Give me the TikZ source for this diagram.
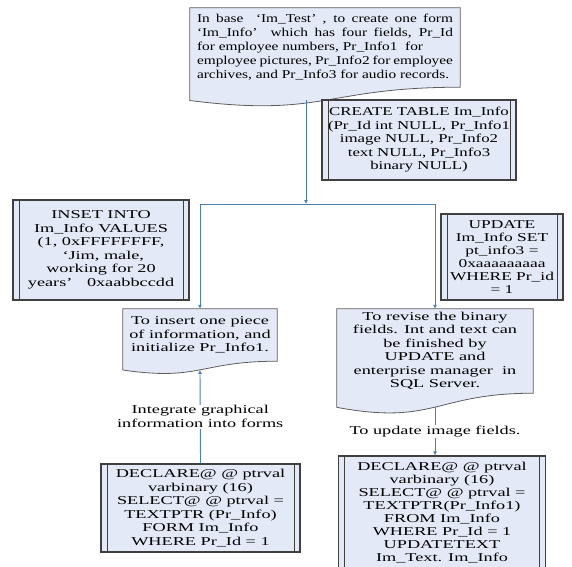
\documentclass[tikz,border=0pt]{standalone}
\usepackage{fontspec}
\setmainfont[FakeStretch=1.52]{Liberation Serif}
\newfontfamily\docfontA[FakeStretch=1.28]{Liberation Serif}
\newfontfamily\docfontB[FakeStretch=1.40]{Liberation Serif}
\newfontfamily\docfontC[FakeStretch=1.45]{Liberation Serif}
\usetikzlibrary{arrows.meta,calc,backgrounds}

\definecolor{boxfill}{RGB}{227,233,246}
\definecolor{boxline}{RGB}{64,64,64}
\definecolor{linkblue}{RGB}{74,126,187}

\tikzset{
  docline/.style={draw=boxline!85, line width=0.8pt, fill=boxfill},
  docnode/.style={inner sep=0pt, align=center},
  dblbox/.style={draw=boxline, line width=1.2pt, fill=boxfill, inner sep=0pt, align=center,
    path picture={\draw[boxline, line width=1pt]
      ([xshift=6pt]path picture bounding box.north west) -- ([xshift=6pt]path picture bounding box.south west)
      ([xshift=-6pt]path picture bounding box.north east) -- ([xshift=-6pt]path picture bounding box.south east);}},
  link/.style={draw=linkblue, line width=0.9pt, -{Latex[length=4pt,width=4pt]}},
  linktext/.style={fill=white, inner sep=1pt, align=center}
}

% document shape with wavy bottom, drawn behind node #1
\newcommand{\wavedoc}[1]{%
  \begin{pgfonlayer}{background}
  \draw[docline] let \p1=(#1.north west), \p2=(#1.south east) in
    (\p1) -- (\x2,\y1) -- (\p2)
    .. controls (#1.south) and ({(\x1+\x2)/2},{\y1+1.384*(\y2-\y1)})
    .. (\x1,{\y1+1.1675*(\y2-\y1)}) -- cycle;
  \end{pgfonlayer}
  \coordinate (#1-bot) at ($(#1.north)!1.165!(#1.south)$);}

\begin{document}
\begin{tikzpicture}[x=1pt, y=-1pt, font=\fontsize{12pt}{13.5pt}\selectfont]
  \useasboundingbox (0,0) rectangle (572,566);
  % document shapes
  \node[docnode, align=justify, text width=256pt, inner xsep=7pt, minimum height=79pt,
        font=\fontsize{12pt}{14pt}\docfontA] (base) at (325,47.5)
    {In base\ \ ‘Im\_Test’\ , to create one form\linebreak
     ‘Im\_Info’\ \ which has four fields, Pr\_Id\linebreak
     for employee numbers, Pr\_Info1\ \ for\\
     employee pictures, Pr\_Info2 for employee\linebreak
     archives, and Pr\_Info3 for audio records.};
  \wavedoc{base}
  \node[docnode, minimum width=154pt, minimum height=52pt] (insert) at (200,335)
    {To insert one piece\\ of information, and\\ initialize Pr\_Info1.};
  \wavedoc{insert}
  \node[docnode, minimum width=196pt, minimum height=84pt] (revise) at (435,351)
    {To revise the binary\\ fields. Int and text can\\ be finished by\\ UPDATE and\\
     enterprise manager\ \ in\\ SQL Server.};
  \wavedoc{revise}
  % SQL boxes
  \node[dblbox, minimum width=194pt, minimum height=80pt, font=\fontsize{12pt}{13.5pt}\docfontB]
    (create) at (419,140)
    {CREATE TABLE Im\_Info\\ (Pr\_Id int NULL, Pr\_Info1\\ image NULL, Pr\_Info2\\
     text NULL, Pr\_Info3\\ binary NULL)};
  \node[dblbox, minimum width=176pt, minimum height=100pt] (inset) at (101,250)
    {INSET INTO\\ Im\_Info VALUES\\ (1, 0xFFFFFFFF,\\ \ ‘Jim, male,\\
     working for 20\\ years’\hspace{10pt} 0xaabbccdd};
  \node[dblbox, minimum width=122pt, minimum height=86pt, font=\fontsize{12pt}{13pt}\docfontC]
    (update) at (502,257)
    {UPDATE\\ Im\_Info SET\\ pt\_info3 =\\ 0xaaaaaaaaa\\ WHERE Pr\_id\\ = 1};
  \node[dblbox, minimum width=199pt, minimum height=88pt] (decl1) at (200.5,508)
    {DECLARE@ @ ptrval\\ varbinary (16)\\ SELECT@ @ ptrval =\\ TEXTPTR (Pr\_Info)\\
     FORM Im\_Info\\ WHERE Pr\_Id = 1};
  \node[dblbox, minimum width=207pt, minimum height=114pt, font=\fontsize{12pt}{13pt}\selectfont]
    (decl2) at (442,513)
    {DECLARE@ @ ptrval\\ varbinary (16)\\ SELECT@ @ ptrval =\\ TEXTPTR(Pr\_Info1)\\
     FROM Im\_Info\\ WHERE Pr\_Id = 1\\ UPDATETEXT\\ Im\_Text. Im\_Info};
  % connectors
  \coordinate (split) at (306,204);
  \draw[link] (base-bot -| split) -- (split);
  \draw[link] (split) -| (insert.north);
  \draw[link] (split) -| (revise.north);
  \draw[link] (decl1.north) -- (insert-bot)
    node[linktext, midway] {Integrate graphical\\ information into forms};
  \draw[link] (revise-bot) -- (revise-bot |- decl2.north)
    node[linktext, midway] {To update image fields.};
\end{tikzpicture}
\end{document}
